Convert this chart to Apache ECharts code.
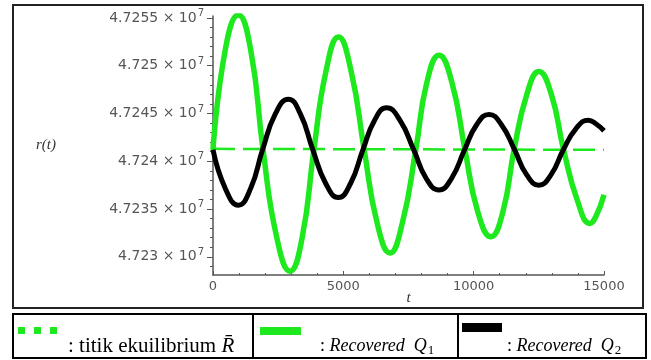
<!DOCTYPE html>
<html>
<head>
<meta charset="utf-8">
<script src="https://cdn.jsdelivr.net/npm/echarts@6/dist/echarts.min.js"></script>
<style>
	html, body {margin: 0; padding: 0; background: #fff;}
	#charts {width: 651px; height: 360px;}
</style>
</head>
<body>
<div id="charts"></div>
<script>
// recovered Q1 (green)
var tQ1 = [0, 480, 970, 1450, 1920, 2440, 2955, 3420, 3870, 4340, 4810, 5300, 5800, 6300, 6790, 7260, 7780, 8200, 8670, 9170, 9665, 10160, 10660, 11120, 11550, 12040, 12500, 12980, 13450, 13990, 14460, 14700, 15000];
var vQ1 = [47241200, 47251800, 47255300, 47251600, 47241200, 47232100, 47228500, 47232000, 47241200, 47249500, 47253000, 47249400, 47241200, 47233500, 47230400, 47233500, 47241200, 47248200, 47251100, 47248200, 47241200, 47234700, 47232100, 47234700, 47241200, 47247000, 47249400, 47247000, 47241200, 47235800, 47233500, 47234300, 47236500];
// recovered Q2 (black)
var tQ2 = [0, 480, 970, 1450, 1900, 2400, 2890, 3360, 3830, 4320, 4810, 5280, 5750, 6200, 6660, 7170, 7700, 8180, 8670, 9150, 9650, 10120, 10590, 11060, 11570, 12030, 12500, 12970, 13440, 13920, 14400, 14700, 15000];
var vQ2 = [47241200, 47237100, 47235400, 47237200, 47241200, 47245000, 47246500, 47244900, 47241200, 47237700, 47236200, 47237700, 47241200, 47244300, 47245600, 47244300, 47241200, 47238200, 47237000, 47238200, 47241200, 47243850, 47244900, 47243850, 47241200, 47238600, 47237500, 47238600, 47241200, 47243400, 47244300, 47243900, 47243200];
// titik ekuilibrium
var tEq = [0, 15000];
var vEq = [47241300, 47241200];

var yTickValues = [47230000, 47235000, 47240000, 47245000, 47250000, 47255000];
var yTickLabels = ['4.723', '4.7235', '4.724', '4.7245', '4.725', '4.7255'];
var yMinorValues = [];
for (var m = 47229000; m <= 47255000; m += 1000) {
	if (m % 5000 != 0) yMinorValues.push(m);
}

function pairs(t, v){
	var out = [];
	for (var i = 0; i < t.length; i++) out.push([t[i], v[i]]);
	return out;
}

var charts = echarts.init(document.getElementById('charts'));
var axisGrey = '#555';
var green = '#1ee81e';
var option = {
	animation: false,
	grid: {left: 213, right: 47, top: 16, bottom: 85},
	xAxis: {
		type: 'value',
		min: 0,
		max: 15000,
		interval: 5000,
		name: 't',
		nameLocation: 'middle',
		nameGap: 16,
		nameMoveOverlap: false,
		nameTextStyle: {fontFamily: 'Liberation Serif', fontStyle: 'italic', fontSize: 15, color: '#333'},
		axisLine: {lineStyle: {color: axisGrey, width: 1.5}},
		axisTick: {inside: true, length: 4, lineStyle: {color: axisGrey}},
		minorTick: {show: true, splitNumber: 5, length: 2, lineStyle: {color: axisGrey}},
		splitLine: {show: false},
		axisLabel: {
			margin: 5, color: axisGrey, fontFamily: 'DejaVu Sans', fontSize: 13,
			formatter: function (v) { return String(v); }
		}
	},
	yAxis: [{
		type: 'value',
		min: 47228100,
		max: 47255200,
		name: 'r(t)',
		nameLocation: 'middle',
		nameRotate: 0,
		nameGap: 167,
		nameMoveOverlap: false,
		nameTextStyle: {fontFamily: 'Liberation Serif', fontStyle: 'italic', fontSize: 15, color: '#333', align: 'center'},
		axisLine: {show: true, lineStyle: {color: axisGrey, width: 1.5}},
		axisTick: {show: true, length: 6, customValues: yTickValues, lineStyle: {color: axisGrey}},
		splitLine: {show: false},
		axisLabel: {
			margin: 9,
			color: axisGrey,
			customValues: yTickValues,
			formatter: function (v) {
				var idx = yTickValues.indexOf(v);
				return '{b|' + (idx >= 0 ? yTickLabels[idx] : '') + ' \u00d7 10}{s|7}';
			},
			rich: {
				b: {fontFamily: 'DejaVu Sans', fontSize: 14, color: axisGrey},
				s: {fontFamily: 'DejaVu Sans', fontSize: 10, color: axisGrey, padding: [0, 0, 9, 1]}
			}
		}
	}, {
		type: 'value',
		min: 47228100,
		max: 47255200,
		position: 'left',
		axisLine: {show: false},
		axisTick: {show: true, length: 3, customValues: yMinorValues, lineStyle: {color: axisGrey}},
		axisLabel: {show: false},
		splitLine: {show: false}
	}],
	series: [{
		name: 'titik ekuilibrium',
		type: 'line',
		showSymbol: false,
		data: pairs(tEq, vEq),
		lineStyle: {color: green, width: 2.5, type: [22, 8]},
		z: 1
	}, {
		name: 'Recovered Q1',
		type: 'line',
		smooth: true,
		showSymbol: false,
		data: pairs(tQ1, vQ1),
		lineStyle: {color: green, width: 5.5},
		z: 2
	}, {
		name: 'Recovered Q2',
		type: 'line',
		smooth: true,
		showSymbol: false,
		data: pairs(tQ2, vQ2),
		lineStyle: {color: '#000', width: 5},
		z: 3
	}],
	graphic: [
		// frame round the plot
		{type: 'rect', shape: {x: 13, y: 5, width: 630, height: 303}, style: {fill: 'none', stroke: '#222', lineWidth: 2}, z: -1},
		// legend table
		{type: 'rect', shape: {x: 13, y: 314, width: 633, height: 44}, style: {fill: 'none', stroke: '#000', lineWidth: 2}},
		{type: 'line', shape: {x1: 253, y1: 314, x2: 253, y2: 358}, style: {stroke: '#000', lineWidth: 2}},
		{type: 'line', shape: {x1: 458, y1: 314, x2: 458, y2: 358}, style: {stroke: '#000', lineWidth: 2}},
		{type: 'rect', shape: {x: 18, y: 327, width: 7, height: 7}, style: {fill: green}},
		{type: 'rect', shape: {x: 34, y: 327, width: 7, height: 7}, style: {fill: green}},
		{type: 'rect', shape: {x: 50, y: 327, width: 7, height: 7}, style: {fill: green}},
		{type: 'text', x: 68, y: 346, style: {
			text: '{n|: titik ekuilibrium }{i|R\u0304}',
			verticalAlign: 'middle',
			rich: {
				n: {fontFamily: 'Liberation Serif', fontSize: 21, fill: '#000'},
				i: {fontFamily: 'Liberation Serif', fontSize: 21, fontStyle: 'italic', fill: '#000'}
			}
		}},
		{type: 'rect', shape: {x: 260, y: 327, width: 41, height: 8}, style: {fill: green}},
		{type: 'text', x: 320, y: 346, style: {
			text: '{n|: }{i|Recovered  Q}{s|1}',
			verticalAlign: 'middle',
			rich: {
				n: {fontFamily: 'Liberation Serif', fontSize: 18, fill: '#000'},
				i: {fontFamily: 'Liberation Serif', fontSize: 18, fontStyle: 'italic', fill: '#000'},
				s: {fontFamily: 'Liberation Serif', fontSize: 13, fill: '#000', padding: [9, 0, 0, 1]}
			}
		}},
		{type: 'rect', shape: {x: 462, y: 323, width: 40, height: 9}, style: {fill: '#000'}},
		{type: 'text', x: 507, y: 346, style: {
			text: '{n|: }{i|Recovered  Q}{s|2}',
			verticalAlign: 'middle',
			rich: {
				n: {fontFamily: 'Liberation Serif', fontSize: 18, fill: '#000'},
				i: {fontFamily: 'Liberation Serif', fontSize: 18, fontStyle: 'italic', fill: '#000'},
				s: {fontFamily: 'Liberation Serif', fontSize: 13, fill: '#000', padding: [9, 0, 0, 1]}
			}
		}}
	]
};
charts.setOption(option);
</script>
</body>
</html>
